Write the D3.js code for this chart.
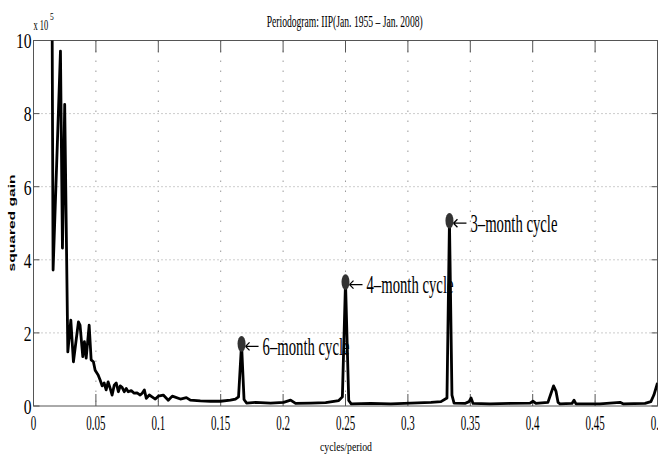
<!DOCTYPE html>
<html>
<head>
<meta charset="utf-8">
<script src="https://cdn.jsdelivr.net/npm/d3@7/dist/d3.min.js"></script>
<style>
body{margin:0;background:#fff;}
text{font-family:"Liberation Serif","Times New Roman",serif;fill:#000;}
</style>
</head>
<body>
<div id="chart"></div>
<script>
// periodogram, values (gain in units of 1e5)
var freq = [0.0016, 0.0048, 0.0080, 0.0111, 0.0143, 0.0157, 0.0216, 0.0232, 0.0250, 0.0275,
            0.0299, 0.0320, 0.0360, 0.0373, 0.0395, 0.0408, 0.0422, 0.0446, 0.0462, 0.0480,
            0.0494, 0.0518, 0.0534, 0.0550, 0.0566, 0.0582, 0.0598, 0.0614, 0.0630, 0.0647,
            0.0663, 0.0680, 0.0695, 0.0710, 0.0727, 0.0743, 0.0759, 0.0783, 0.0807, 0.0830,
            0.0855, 0.0871, 0.0888, 0.0904, 0.0928, 0.0950, 0.0976, 0.1000, 0.1040, 0.1080,
            0.1112, 0.1177, 0.1225, 0.1257, 0.1337, 0.1418, 0.1498, 0.1578, 0.1618, 0.1643,
            0.1667, 0.1687, 0.1707, 0.1780, 0.1900, 0.2004, 0.2060, 0.2100, 0.2221, 0.2341,
            0.2446, 0.2475, 0.2500, 0.2526, 0.2546, 0.2703, 0.2863, 0.3024, 0.3185, 0.3265,
            0.3313, 0.3333, 0.3353, 0.3370, 0.3457, 0.3490, 0.3506, 0.3522, 0.3658, 0.3818,
            0.3979, 0.4002, 0.4026, 0.4122, 0.4147, 0.4167, 0.4187, 0.4203, 0.4219, 0.4315,
            0.4331, 0.4347, 0.4539, 0.4700, 0.4724, 0.4900, 0.4947, 0.4971, 0.5000];
var gain = [40, 35, 28, 22, 16, 3.72, 9.71, 4.32, 8.25, 1.48,
            2.35, 1.21, 2.30, 2.21, 1.35, 1.76, 1.31, 2.21, 1.26, 1.21,
            0.98, 0.85, 0.71, 0.55, 0.63, 0.44, 0.66, 0.49, 0.30, 0.57,
            0.63, 0.39, 0.55, 0.51, 0.39, 0.48, 0.39, 0.42, 0.35, 0.36,
            0.30, 0.35, 0.44, 0.21, 0.30, 0.25, 0.19, 0.27, 0.30, 0.16,
            0.27, 0.19, 0.23, 0.16, 0.14, 0.13, 0.13, 0.16, 0.19, 0.25,
            1.70, 0.18, 0.08, 0.10, 0.08, 0.10, 0.16, 0.07, 0.08, 0.09,
            0.15, 0.25, 3.39, 0.15, 0.06, 0.07, 0.06, 0.08, 0.10, 0.12,
            0.22, 5.07, 0.30, 0.08, 0.07, 0.12, 0.22, 0.07, 0.06, 0.07,
            0.08, 0.13, 0.07, 0.10, 0.35, 0.55, 0.40, 0.10, 0.06, 0.07,
            0.16, 0.06, 0.06, 0.10, 0.06, 0.07, 0.12, 0.30, 0.63];

var cycleFreq = [0.1667, 0.25, 0.3333];
var cycleGain = [1.70, 3.39, 5.07];
var cycleLabels = ["6\u2013month cycle", "4\u2013month cycle", "3\u2013month cycle"];

var xTicks = [0, 0.05, 0.1, 0.15, 0.2, 0.25, 0.3, 0.35, 0.4, 0.45, 0.5];
var xTickLabels = ["0", "0.05", "0.1", "0.15", "0.2", "0.25", "0.3", "0.35", "0.4", "0.45", "0.5"];
var yTicks = [0, 2, 4, 6, 8, 10];
var yTickLabels = ["0", "2", "4", "6", "8", "10"];

function start(){
    draw();
}

// squash text sideways like the original figure
function fitText(sel, k, anchor){
    sel.each(function(){
        var t = d3.select(this);
        var w = this.getComputedTextLength() * k;
        var x = +t.attr("x");
        if (anchor == "middle") x = x - w / 2;
        if (anchor == "end") x = x - w;
        t.attr("x", x).attr("textLength", w).attr("lengthAdjust", "spacingAndGlyphs");
    });
}

function draw(){
    var width = 658, height = 457;
    var left = 33.5, right = 657.5, top = 40.5, bottom = 406;

    var svg = d3.select("#chart").append("svg")
        .attr("width", width)
        .attr("height", height);

    var xScale = d3.scaleLinear().domain([0, 0.5]).range([left, right]);
    var yScale = d3.scaleLinear().domain([0, 10]).range([bottom, top]);

    svg.append("defs").append("clipPath").attr("id", "plotclip")
        .append("rect")
        .attr("x", left).attr("y", top)
        .attr("width", right - left).attr("height", bottom - top);

    // grid
    svg.append("g").selectAll("line")
        .data(xTicks.slice(1, -1))
        .enter().append("line")
        .attr("x1", d => xScale(d)).attr("x2", d => xScale(d))
        .attr("y1", top).attr("y2", bottom)
        .attr("stroke", "#9a9a9a").attr("stroke-width", 1)
        .attr("stroke-dasharray", "1.5,8.5");
    svg.append("g").selectAll("line")
        .data(yTicks.slice(1, -1))
        .enter().append("line")
        .attr("x1", left).attr("x2", right)
        .attr("y1", d => yScale(d)).attr("y2", d => yScale(d))
        .attr("stroke", "#9a9a9a").attr("stroke-width", 1)
        .attr("stroke-dasharray", "1,3");

    // axes box and ticks (matlab style, on all four sides)
    var axisColor = "#555";
    svg.append("rect")
        .attr("x", left).attr("y", top)
        .attr("width", right - left).attr("height", bottom - top)
        .attr("fill", "none").attr("stroke", axisColor).attr("stroke-width", 1);

    var ticks = svg.append("g").attr("stroke", axisColor).attr("stroke-width", 1);
    xTicks.forEach(function(d){
        ticks.append("line").attr("x1", xScale(d)).attr("x2", xScale(d)).attr("y1", bottom).attr("y2", bottom - 12);
        ticks.append("line").attr("x1", xScale(d)).attr("x2", xScale(d)).attr("y1", top).attr("y2", top + 12);
    });
    yTicks.forEach(function(d){
        ticks.append("line").attr("x1", left).attr("x2", left + 6).attr("y1", yScale(d)).attr("y2", yScale(d));
        ticks.append("line").attr("x1", right).attr("x2", right - 6).attr("y1", yScale(d)).attr("y2", yScale(d));
    });

    // tick labels
    svg.append("g").selectAll("text")
        .data(xTicks)
        .enter().append("text")
        .attr("x", d => xScale(d))
        .attr("y", 430)
        .style("font-size", "20px")
        .text((d, i) => xTickLabels[i])
        .call(fitText, 0.55, "middle");

    svg.append("g").selectAll("text")
        .data(yTicks)
        .enter().append("text")
        .attr("x", 31.5)
        .attr("y", d => yScale(d) + 7.8)
        .style("font-size", "20px")
        .text((d, i) => yTickLabels[i])
        .call(fitText, 0.78, "end");

    // exponent
    svg.append("text").attr("x", 33.5).attr("y", 30)
        .style("font-size", "14px").text("x 10")
        .call(fitText, 0.6, "start");
    svg.append("text").attr("x", 50).attr("y", 19.5)
        .style("font-size", "10px").text("5")
        .call(fitText, 0.75, "start");

    // title and axis labels
    svg.append("text")
        .attr("x", 266.7).attr("y", 26.5)
        .attr("textLength", 156).attr("lengthAdjust", "spacingAndGlyphs")
        .style("font-size", "17px")
        .text("Periodogram: IIP(Jan. 1955 \u2013 Jan. 2008)");

    svg.append("text")
        .attr("x", 320).attr("y", 450.5)
        .attr("textLength", 52).attr("lengthAdjust", "spacingAndGlyphs")
        .style("font-size", "13px")
        .text("cycles/period");

    svg.append("text")
        .attr("transform", "translate(15,223) rotate(-90) scale(1,0.75)")
        .attr("x", -48.5).attr("y", 0)
        .attr("textLength", 97).attr("lengthAdjust", "spacingAndGlyphs")
        .style("font-family", "'Liberation Sans', Arial, sans-serif")
        .style("font-weight", "bold")
        .style("font-size", "13px")
        .text("squared gain");

    // annotation text sits under the line
    svg.append("g").selectAll("text")
        .data(cycleFreq)
        .enter().append("text")
        .attr("x", d => xScale(d) + 21)
        .attr("y", (d, i) => yScale(cycleGain[i]) + 11)
        .attr("textLength", 87).attr("lengthAdjust", "spacingAndGlyphs")
        .style("font-size", "25px")
        .text((d, i) => cycleLabels[i]);

    // periodogram line
    var pts = freq.map((f, i) => [f, gain[i]]);
    var line = d3.line()
        .x(d => xScale(d[0]))
        .y(d => yScale(d[1]));
    svg.append("path")
        .datum(pts)
        .attr("clip-path", "url(#plotclip)")
        .attr("d", line)
        .attr("fill", "none")
        .attr("stroke", "#000")
        .attr("stroke-width", 2.8)
        .attr("stroke-linejoin", "round");

    // markers and arrows
    var marks = svg.append("g").selectAll("g")
        .data(cycleFreq)
        .enter().append("g")
        .attr("transform", (d, i) => "translate(" + xScale(d) + "," + yScale(cycleGain[i]) + ")");
    marks.append("ellipse")
        .attr("rx", 4).attr("ry", 7.8)
        .attr("fill", "#333");
    marks.append("path")
        .attr("d", "M4,2.5 L17,2.5 M4,2.5 L8,-1.5 M4,2.5 L8,6.5")
        .attr("fill", "none")
        .attr("stroke", "#000")
        .attr("stroke-width", 1.3);
}

start();
</script>
</body>
</html>
